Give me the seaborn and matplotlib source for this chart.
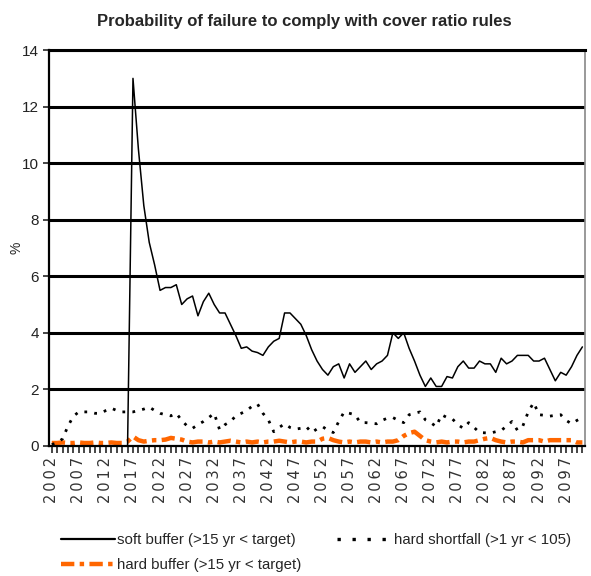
"""Probability of failure to comply with cover ratio rules"""

import numpy as np
import pandas as pd
import matplotlib
matplotlib.use('Agg')
import matplotlib.pyplot as plt
from matplotlib.lines import Line2D
import seaborn as sns

years = list(range(2002, 2101))

soft_buffer = [
    0, 0, 0, 0, 0, 0, 0, 0, 0, 0, 0, 0, 0, 0,
    0, 13.0, 10.5, 8.5, 7.2, 6.4, 5.5, 5.6, 5.6, 5.7,
    5.0, 5.2, 5.3, 4.6, 5.1, 5.4, 5.0, 4.7, 4.7, 4.3,
    3.9, 3.45, 3.5, 3.35, 3.3, 3.2, 3.5, 3.7, 3.8, 4.7,
    4.7, 4.5, 4.3, 3.9, 3.4, 3.0, 2.7, 2.5, 2.8, 2.9,
    2.4, 2.9, 2.6, 2.8, 3.0, 2.7, 2.9, 3.0, 3.2, 4.0,
    3.8, 4.0, 3.45, 3.0, 2.5, 2.1, 2.4, 2.1, 2.1, 2.45,
    2.4, 2.8, 3.0, 2.75, 2.75, 3.0, 2.9, 2.9, 2.6, 3.1,
    2.9, 3.0, 3.2, 3.2, 3.2, 3.0, 3.0, 3.1, 2.7, 2.3,
    2.6, 2.5, 2.8, 3.2, 3.5,
]

hard_shortfall = [
    0.05, 0.1, 0.25, 0.7, 1.05, 1.2, 1.2, 1.2, 1.15, 1.15,
    1.25, 1.33, 1.25, 1.2, 1.2, 1.2, 1.25, 1.3, 1.37, 1.25,
    1.15, 1.1, 1.06, 1.15, 0.9, 0.7, 0.62, 0.75, 0.86, 1.0,
    1.15, 0.57, 0.75, 0.86, 1.06, 1.15, 1.25, 1.4, 1.48, 1.15,
    0.92, 0.5, 0.65, 0.78, 0.65, 0.59, 0.62, 0.68, 0.47, 0.6,
    0.68, 0.55, 0.47, 0.86, 1.2, 1.15, 1.1, 0.82, 0.82, 0.8,
    0.78, 0.9, 0.98, 1.0, 0.9, 0.82, 1.1, 1.15, 1.2, 0.92,
    0.82, 0.68, 1.1, 1.0, 0.95, 0.75, 0.62, 0.82, 0.65, 0.47,
    0.46, 0.45, 0.5, 0.54, 0.7, 0.86, 0.55, 0.7, 1.2, 1.53,
    1.1, 1.08, 1.05, 1.08, 1.1, 0.9, 0.78, 0.9, 1.0,
]

hard_buffer = [
    0.1, 0.1, 0.12, 0.1, 0.1, 0.12, 0.1, 0.1, 0.12, 0.1,
    0.1, 0.12, 0.1, 0.1, 0.15, 0.33, 0.2, 0.15, 0.18, 0.2,
    0.2, 0.22, 0.28, 0.25, 0.22, 0.15, 0.12, 0.15, 0.15, 0.12,
    0.15, 0.12, 0.15, 0.18, 0.15, 0.12, 0.15, 0.12, 0.15, 0.12,
    0.15, 0.15, 0.18, 0.15, 0.12, 0.15, 0.15, 0.12, 0.15, 0.15,
    0.25, 0.28, 0.2, 0.15, 0.12, 0.15, 0.12, 0.15, 0.15, 0.12,
    0.15, 0.12, 0.15, 0.15, 0.2, 0.35, 0.45, 0.5, 0.35, 0.2,
    0.15, 0.12, 0.15, 0.12, 0.15, 0.15, 0.12, 0.15, 0.15, 0.2,
    0.25, 0.28, 0.2, 0.15, 0.12, 0.15, 0.15, 0.12, 0.2, 0.2,
    0.2, 0.15, 0.2, 0.2, 0.2, 0.2, 0.2, 0.12, 0.12,
]

series_names = [
    'soft buffer (>15 yr < target)',
    'hard shortfall (>1 yr < 105)',
    'hard buffer (>15 yr < target)',
]

y_ticks = [0, 2, 4, 6, 8, 10, 12, 14]
label_years = list(range(2002, 2101, 5))

ORANGE = '#FF6600'
THIN = '\u2009'


def main():
    sns.set_style('white')
    plt.rcParams['font.family'] = ['Liberation Sans', 'DejaVu Sans']

    df = pd.DataFrame({
        'year': years,
        series_names[0]: soft_buffer,
        series_names[1]: hard_shortfall,
        series_names[2]: hard_buffer,
    })

    fig = plt.figure(figsize=(5.91, 5.76), dpi=100)
    ax = fig.add_axes([0.083, 0.226, 0.907, 0.687])

    # gridlines first, lines on top
    for yv in y_ticks[1:]:
        ax.axhline(yv, color='black', linewidth=2.2, zorder=1)

    sns.lineplot(data=df, x='year', y=series_names[2], ax=ax, color=ORANGE,
                 linewidth=3.2, zorder=2)
    ax.lines[-1].set_linestyle((0, (3, 1.2, 1, 1.2)))
    sns.lineplot(data=df, x='year', y=series_names[1], ax=ax, color='black',
                 linewidth=2.0, zorder=3)
    ax.lines[-1].set_linestyle((0, (1, 2.6)))
    sns.lineplot(data=df, x='year', y=series_names[0], ax=ax, color='black',
                 linewidth=1.1, zorder=4)

    ax.set_xlim(2001.5, 2100.5)
    ax.set_ylim(0, 14)
    ax.set_yticks(y_ticks)
    ax.set_yticklabels([str(v) for v in y_ticks], fontsize=11, color='#222222')
    ax.set_xticks(years)
    ax.set_xticklabels([THIN.join(str(y)) if y in label_years else '' for y in years],
                       rotation=90, fontsize=10.5, color='#333333',
                       family=['DejaVu Sans'])
    ax.tick_params(axis='x', direction='out', length=5, width=1.2, pad=3, bottom=True)
    ax.tick_params(axis='y', direction='out', length=4, width=1.2, left=True)
    ax.set_xlabel('')
    ax.set_ylabel('%', fontsize=10)
    ax.yaxis.set_label_coords(-0.047, 0.5)

    for side in ['left', 'bottom']:
        ax.spines[side].set_color('black')
        ax.spines[side].set_linewidth(1.6)
    ax.spines['right'].set_color('#888888')
    ax.spines['right'].set_linewidth(1.2)
    ax.spines['top'].set_color('black')
    ax.spines['top'].set_linewidth(2.2)

    fig.suptitle('Probability of failure to comply with cover ratio rules',
                 x=0.515, y=0.975, fontsize=12, fontweight='bold',
                 family=['Liberation Sans Narrow', 'Liberation Sans'])

    handles = {
        series_names[0]: Line2D([], [], color='black', linewidth=1.6),
        series_names[1]: Line2D([], [], color='black', linewidth=2.4,
                                linestyle=(0, (1, 3.5))),
        series_names[2]: Line2D([], [], color=ORANGE, linewidth=3.2,
                                linestyle=(0, (3, 1.2, 1, 1.2))),
    }
    # columns fill first: soft / hard buffer in col 1, shortfall in col 2
    order = [series_names[0], series_names[2], series_names[1]]
    fig.legend([handles[n] for n in order], order, loc='upper left',
               bbox_to_anchor=(0.085, 0.093), ncol=2, frameon=False,
               fontsize=10.8, handlelength=3.6, labelspacing=0.75,
               columnspacing=2.4, handletextpad=0.15, borderpad=0.2)

    fig.savefig('out.png', dpi=100)


if __name__ == "__main__":
    main()
